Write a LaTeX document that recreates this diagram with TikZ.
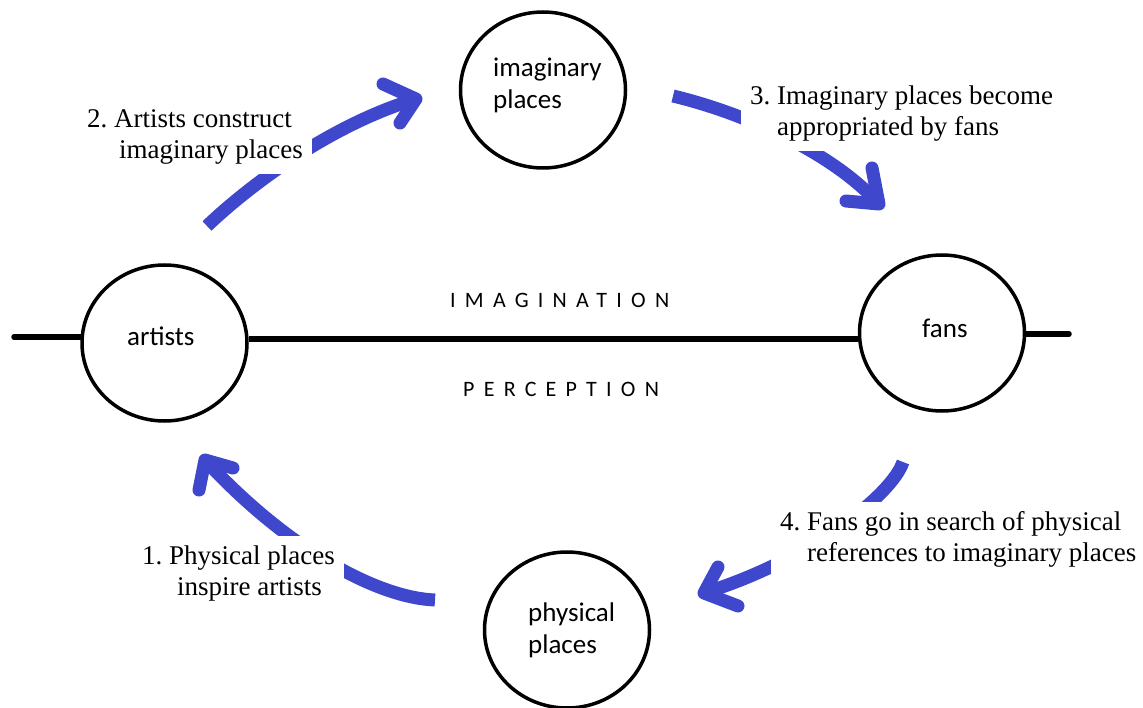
\documentclass[tikz,border=0pt]{standalone}
\usepackage{fontspec}
\setmainfont{Liberation Serif}
\newfontfamily\calfont{Carlito}
\newfontfamily\spacefont[LetterSpace=42]{Carlito}
\usetikzlibrary{shapes.geometric}
\definecolor{arrowblue}{RGB}{63,72,204}
\frenchspacing
\begin{document}
\begin{tikzpicture}[x=1pt,y=-1pt,
  place/.style={draw, ellipse, line width=3.5pt, minimum width=165pt, minimum height=156pt, inner sep=0pt},
  placetext/.style={font=\calfont\fontsize{27}{32}\selectfont, align=left, inner sep=0pt, anchor=base west},
  axisline/.style={line width=5.5pt, line cap=round},
  midline/.style={line width=5.5pt},
  axistext/.style={font=\spacefont\fontsize{22}{26}\selectfont, inner sep=0pt, anchor=base west},
  flow/.style={draw=arrowblue, line width=13pt},
  flowhead/.style={draw=arrowblue, line width=13pt, line cap=round, line join=round},
  steptext/.style={fill=white, inner sep=9pt, align=left, anchor=base west, font=\fontsize{27}{31}\selectfont}]
\useasboundingbox (0,0) rectangle (1143,708);

% places
\node[place] (art) at (164.5,343) {};
\node[place] (img) at (543,90) {};
\node[place] (fan) at (942,333) {};
\node[place] (phy) at (567,630) {};

% base anchor of a two-line node is the baseline of its last line
\node[placetext] (artT) at (127,346) {artists};
\node[placetext] (imgT) at (493,109) {imaginary\\places};
\node[placetext] (fanT) at (922,338) {fans};
\node[placetext] (phyT) at (528,653) {physical\\places};

% axis
\coordinate (LE) at (14,337);
\coordinate (RE) at (1069,334);
\coordinate (MID) at (0,339);
\draw[axisline] (LE) -- (LE -| art.west);
\draw[midline] (art.east |- MID) -- (fan.west |- MID);
\draw[axisline] (fan.east |- RE) -- (RE);

\node[axistext] (imag) at (450,308) {IMAGINATION};
\node[axistext] (perc) at (463,396) {PERCEPTION};

% flow arrows (shafts)
\coordinate (a2s) at (207,226);
\coordinate (a2t) at (416,99);
\coordinate (a3s) at (673,96);
\coordinate (a3t) at (879,204);
\coordinate (a4s) at (903,462);
\coordinate (a4t) at (704,593);
\coordinate (a1s) at (435,600);
\coordinate (a1t) at (205,460);

\draw[flow] (a2s) .. controls (250,185) and (330,125) .. (a2t);
\draw[flow] (a3s) .. controls (740,112) and (830,150) .. (a3t);
\draw[flow] (a4s) .. controls (892,495) and (810,560) .. (a4t);
\draw[flow] (a1s) .. controls (380,598) and (290,552) .. (a1t);

% step labels (white boxes interrupt the arrows)
\node[steptext] (l2) at (78,159) {2. Artists construct\\\hspace*{32pt}imaginary places};
\node[steptext] (l3) at (741,136) {3. Imaginary places become\\\hspace*{27pt}appropriated by fans};
\node[steptext] (l4) at (771,561) {4. Fans go in search of physical\\\hspace*{27pt}references to imaginary places};
\node[steptext] (l1) at (133,595) {1. Physical places\\\hspace*{35pt}inspire artists};

% arrow heads
\draw[flowhead] (383,84) -- (a2t) -- (400,123);
\draw[flowhead] (872,168) -- (a3t) -- (846,201);
\draw[flowhead] (718,567) -- (a4t) -- (738,606);
\draw[flowhead] (233,468) -- (a1t) -- (199,490);
\end{tikzpicture}
\end{document}
